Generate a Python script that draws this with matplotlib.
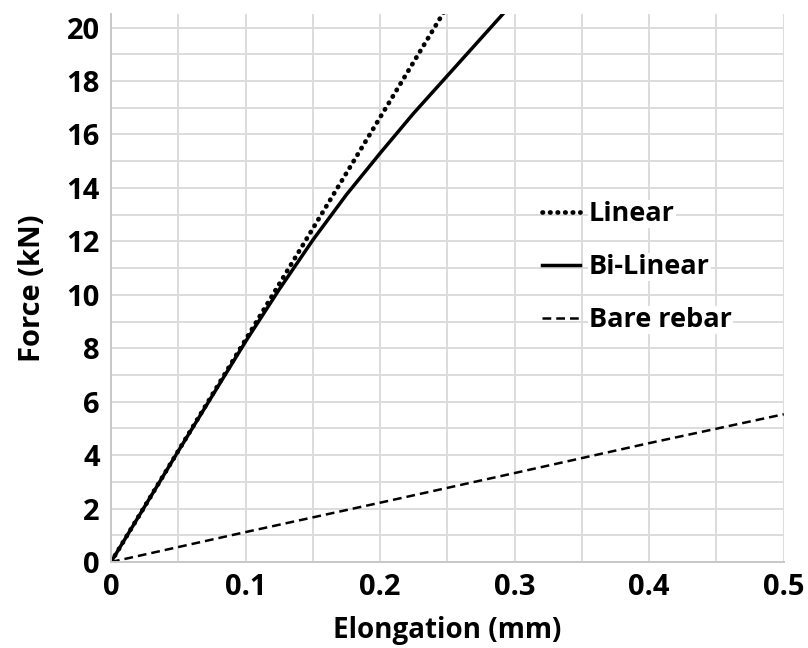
import matplotlib
matplotlib.use("Agg")
import matplotlib.pyplot as plt
import numpy as np

# Data
linear_x = [0.0, 0.25]
linear_y = [0.0, 20.8]

bilinear_x = [0.0, 0.05, 0.10, 0.125, 0.15, 0.175, 0.20, 0.225, 0.25, 0.275, 0.30]
bilinear_y = [0.0, 4.15, 8.25, 10.2, 12.05, 13.75, 15.3, 16.8, 18.2, 19.6, 21.0]

bare_x = [0.0, 0.1, 0.2, 0.3, 0.4, 0.5]
bare_y = [0.0, 1.12, 2.22, 3.33, 4.45, 5.53]

xticks = [0, 0.1, 0.2, 0.3, 0.4, 0.5]
xticklabels = ["0", "0.1", "0.2", "0.3", "0.4", "0.5"]
yticks = list(range(0, 21, 2))

plt.rcParams['font.family'] = ['Open Sans', 'DejaVu Sans']

fig = plt.figure(figsize=(8.08, 6.48), dpi=100)
ax = fig.add_axes([0.1374, 0.1327, 0.970 - 0.1374, 0.978 - 0.1327])

ax.plot(linear_x, linear_y, color='black', lw=3.4, linestyle=(0, (0.1, 1.5)),
        dash_capstyle='round', label='Linear')
ax.plot(bilinear_x, bilinear_y, color='black', lw=2.5, label='Bi-Linear')
ax.plot(bare_x, bare_y, color='black', lw=1.8, linestyle=(0, (3.5, 2)), label='Bare rebar')

ax.set_xlim(0, 0.5)
ax.set_ylim(0, 20.5)
ax.set_xticks(xticks)
ax.set_xticklabels(xticklabels)
ax.set_yticks(yticks)
ax.set_xticks(np.arange(0, 0.5001, 0.05), minor=True)
ax.set_yticks(np.arange(0, 20.01, 1), minor=True)
ax.grid(True, which='both', color='#dcdcdc', lw=1.4)
ax.set_axisbelow(True)
ax.tick_params(which='both', length=0)
ax.tick_params(axis='both', labelsize=21, pad=8)
for lab in ax.get_xticklabels() + ax.get_yticklabels():
    lab.set_fontweight('bold')

for s in ['top', 'right']:
    ax.spines[s].set_visible(False)
for s in ['left', 'bottom']:
    ax.spines[s].set_color('#c8c8c8')
    ax.spines[s].set_linewidth(1.4)

ax.set_xlabel('Elongation (mm)', fontsize=20, fontweight='bold', labelpad=10)
ax.set_ylabel('Force (kN)', fontsize=21, fontweight='bold', labelpad=14)

leg = ax.legend(loc='upper left', bbox_to_anchor=(0.641, 0.659), frameon=False,
                handlelength=1.4, handletextpad=0.33, labelspacing=1.0,
                borderpad=0, borderaxespad=0,
                prop={'weight': 'bold', 'size': 19.5})
for t in leg.get_texts():
    t.set_bbox(dict(facecolor='white', edgecolor='none', pad=0.5))

fig.savefig('out.png', dpi=100)
